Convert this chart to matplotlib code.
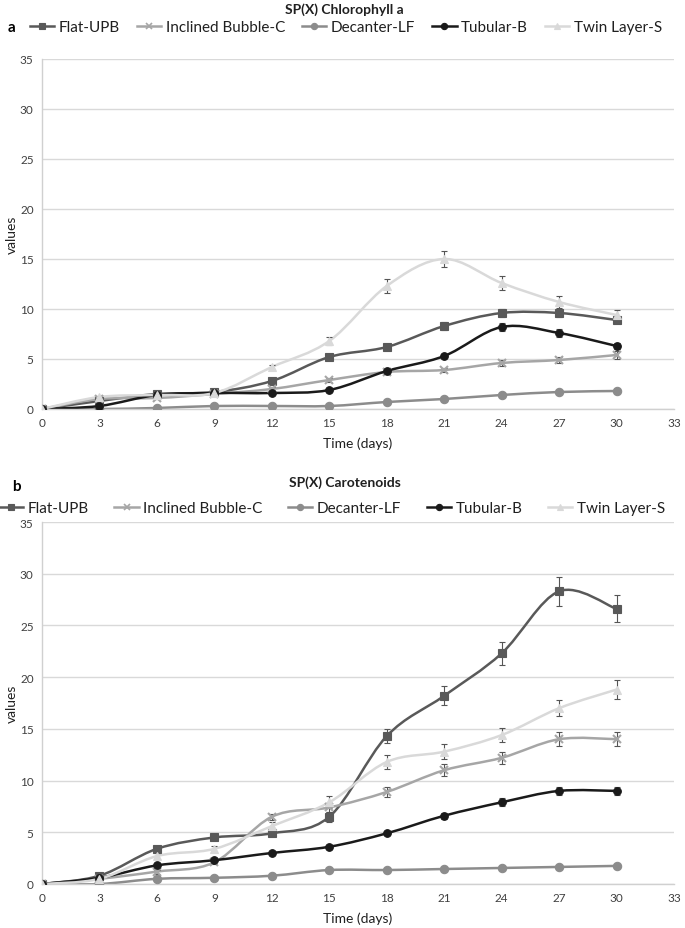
import matplotlib
matplotlib.use('Agg')
import matplotlib.pyplot as plt
from matplotlib.path import Path
from matplotlib.patches import PathPatch
from matplotlib.lines import Line2D

plt.rcParams['font.family'] = ['Lato', 'DejaVu Sans']

days = [0, 3, 6, 9, 12, 15, 18, 21, 24, 27, 30]
series_names = ['Flat-UPB', 'Inclined Bubble-C', 'Decanter-LF', 'Tubular-B', 'Twin Layer-S']

# panel a - chlorophyll a
chl_flat = [0, 0.8, 1.5, 1.7, 2.8, 5.2, 6.2, 8.3, 9.6, 9.6, 8.9]
chl_incl = [0, 1.0, 1.1, 1.5, 2.0, 2.9, 3.7, 3.9, 4.6, 4.9, 5.4]
chl_dec = [0, 0.0, 0.1, 0.3, 0.3, 0.3, 0.7, 1.0, 1.4, 1.7, 1.8]
chl_tub = [0, 0.3, 1.4, 1.6, 1.6, 1.9, 3.8, 5.3, 8.2, 7.6, 6.3]
chl_twin = [0, 1.2, 1.4, 1.6, 4.2, 6.8, 12.3, 15.0, 12.6, 10.7, 9.4]
chl_flat_err = [0, 0.1, 0.15, 0.15, 0.2, 0.3, 0.3, 0.4, 0.4, 0.4, 0.3]
chl_incl_err = [0, 0.1, 0.1, 0.1, 0.2, 0.2, 0.2, 0.2, 0.3, 0.3, 0.4]
chl_dec_err = [0, 0, 0, 0, 0, 0, 0.05, 0.1, 0.1, 0.1, 0.2]
chl_tub_err = [0, 0.1, 0.1, 0.1, 0.1, 0.1, 0.2, 0.2, 0.4, 0.4, 0.3]
chl_twin_err = [0, 0.1, 0.1, 0.1, 0.2, 0.4, 0.7, 0.8, 0.7, 0.6, 0.5]

# panel b - carotenoids
car_flat = [0, 0.8, 3.4, 4.5, 4.9, 6.5, 14.3, 18.2, 22.3, 28.3, 26.6]
car_incl = [0, 0.5, 1.2, 2.1, 6.5, 7.4, 8.9, 11.0, 12.2, 14.0, 14.0]
car_dec = [0, 0.0, 0.5, 0.6, 0.8, 1.35, 1.35, 1.45, 1.55, 1.65, 1.75]
car_tub = [0, 0.6, 1.8, 2.3, 3.0, 3.6, 4.9, 6.6, 7.9, 9.0, 9.0]
car_twin = [0, 0.5, 2.7, 3.4, 5.6, 7.9, 11.8, 12.8, 14.4, 17.0, 18.8]
car_flat_err = [0, 0.1, 0.2, 0.2, 0.3, 0.5, 0.7, 0.9, 1.1, 1.4, 1.3]
car_incl_err = [0, 0.1, 0.2, 0.2, 0.3, 0.4, 0.5, 0.6, 0.6, 0.7, 0.7]
car_dec_err = [0, 0, 0, 0, 0.05, 0.05, 0.05, 0.05, 0.05, 0.1, 0.1]
car_tub_err = [0, 0.1, 0.1, 0.1, 0.1, 0.2, 0.2, 0.3, 0.4, 0.4, 0.4]
car_twin_err = [0, 0.1, 0.3, 0.3, 0.4, 0.6, 0.7, 0.7, 0.7, 0.8, 0.95]

colors = ['#595959', '#a6a6a6', '#8c8c8c', '#1a1a1a', '#d9d9d9']
markers = ['s', 'x', 'o', 'o', '^']
msizes = [6, 6, 6, 5.5, 6]


def smooth_path(x, y):
	# excel-style smoothed line as bezier segments through the points
	verts = [(x[0], y[0])]
	codes = [Path.MOVETO]
	n = len(x)
	for i in range(n - 1):
		x0, y0 = (x[i - 1], y[i - 1]) if i > 0 else (x[i], y[i])
		x3, y3 = (x[i + 2], y[i + 2]) if i + 2 < n else (x[i + 1], y[i + 1])
		c1 = (x[i] + (x[i + 1] - x0) / 6.0, y[i] + (y[i + 1] - y0) / 6.0)
		c2 = (x[i + 1] - (x3 - x[i]) / 6.0, y[i + 1] - (y3 - y[i]) / 6.0)
		verts += [c1, c2, (x[i + 1], y[i + 1])]
		codes += [Path.CURVE4, Path.CURVE4, Path.CURVE4]
	return Path(verts, codes)


def draw_panel(ax, data, errs):
	for k in range(5):
		ax.add_patch(PathPatch(smooth_path(days, data[k]), fill=False,
			edgecolor=colors[k], lw=1.8, zorder=2 + k * 0.1))
		ax.errorbar(days, data[k], yerr=errs[k], fmt='none', ecolor='#555555',
			elinewidth=0.8, capsize=2.5, capthick=0.8, zorder=3)
		ax.plot(days, data[k], linestyle='none', marker=markers[k], ms=msizes[k],
			color=colors[k], mew=1.5 if markers[k] == 'x' else 0.8, zorder=4)
	ax.set_xlim(0, 33)
	ax.set_ylim(0, 35)
	ax.set_xticks(range(0, 34, 3))
	ax.set_yticks(range(0, 36, 5))
	ax.grid(axis='y', color='#d9d9d9', lw=1)
	ax.set_axisbelow(True)
	for s in ['top', 'right']:
		ax.spines[s].set_visible(False)
	for s in ['left', 'bottom']:
		ax.spines[s].set_color('#d0d0d0')
		ax.spines[s].set_linewidth(1)
	ax.tick_params(length=0, labelsize=8.5, colors='#404040', pad=6)
	ax.set_xlabel('Time (days)', fontsize=10, color='#202020', labelpad=6)
	ax.set_ylabel('values', fontsize=10, color='#202020')
	ax.yaxis.set_label_coords(-24 / 632, 0.5)


fig = plt.figure(figsize=(6.85, 9.29), dpi=100)

ax1 = fig.add_axes([42 / 685, 519 / 929, 632 / 685, 350 / 929])
draw_panel(ax1, [chl_flat, chl_incl, chl_dec, chl_tub, chl_twin],
	[chl_flat_err, chl_incl_err, chl_dec_err, chl_tub_err, chl_twin_err])

ax2 = fig.add_axes([42 / 685, 44 / 929, 632 / 685, 362 / 929])
draw_panel(ax2, [car_flat, car_incl, car_dec, car_tub, car_twin],
	[car_flat_err, car_incl_err, car_dec_err, car_tub_err, car_twin_err])

handles = [Line2D([], [], color=colors[k], marker=markers[k], ms=4.5, lw=1.8,
	mew=1.2 if markers[k] == 'x' else 0.8) for k in range(5)]

fig.text(0.503, 1 - 10 / 929, 'SP(X) Chlorophyll a', ha='center', va='center',
	fontsize=10, fontweight='bold', color='#202020')
fig.text(8 / 685, 1 - 28 / 929, 'a', ha='left', va='center', fontsize=11, fontweight='bold')
fig.legend(handles, series_names, loc='center', bbox_to_anchor=(346 / 685, 1 - 28 / 929),
	ncol=5, frameon=False, fontsize=11, handlelength=1.6, handletextpad=0.3,
	columnspacing=1.1, labelcolor='#202020')

fig.text(0.503, 1 - 483 / 929, 'SP(X) Carotenoids', ha='center', va='center',
	fontsize=10, fontweight='bold', color='#202020')
fig.text(12 / 685, 1 - 487 / 929, 'b', ha='left', va='center', fontsize=11, fontweight='bold')
fig.legend(handles, series_names, loc='center', bbox_to_anchor=(332 / 685, 1 - 509 / 929),
	ncol=5, frameon=False, fontsize=11, handlelength=1.6, handletextpad=0.3,
	columnspacing=1.65, labelcolor='#202020')

fig.savefig('out.png', dpi=100)
